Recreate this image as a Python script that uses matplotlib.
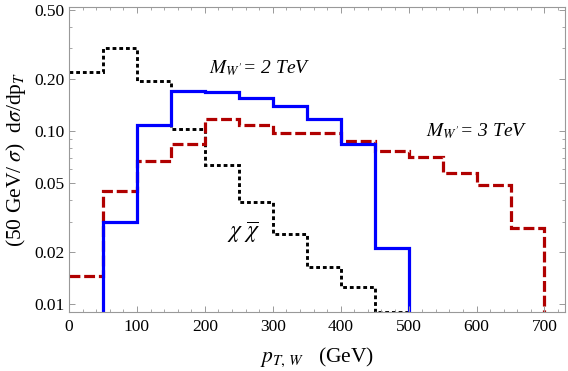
import numpy as np
import matplotlib as mpl
mpl.use("Agg")
import matplotlib.pyplot as plt
from matplotlib.ticker import FixedLocator, MultipleLocator, FixedFormatter

# bin edges (GeV) and normalised distributions
edges_chi = [0, 50, 100, 150, 200, 250, 300, 350, 400, 450, 500]
chi = [0.218, 0.300, 0.194, 0.103, 0.0635, 0.039, 0.0254, 0.0164, 0.0125, 0.0090]

edges_w2 = [50, 100, 150, 200, 250, 300, 350, 400, 450, 500]
w2 = [0.0298, 0.109, 0.170, 0.169, 0.155, 0.140, 0.118, 0.0846, 0.0211]

edges_w3 = [0, 50, 100, 150, 200, 250, 300, 350, 400, 450, 500, 550, 600, 650, 700]
w3 = [0.0146, 0.0453, 0.0673, 0.0846, 0.1166, 0.108, 0.0974, 0.0974,
      0.0876, 0.0768, 0.0709, 0.0569, 0.0488, 0.0275]

yticks = [0.01, 0.02, 0.05, 0.10, 0.20, 0.50]
ytick_labels = ["0.01", "0.02", "0.05", "0.10", "0.20", "0.50"]
yminor = [0.03, 0.04, 0.06, 0.07, 0.08, 0.09, 0.3, 0.4]

mpl.rc("font", family="Liberation Serif", size=11)
mpl.rc("mathtext", fontset="stix")

fig = plt.figure(figsize=(5.68, 3.71), dpi=100)
ax = fig.add_axes([0.1215, 0.159, 0.873, 0.822])

# empty bins far below the plot range, so the histograms only drop
# to the bottom where the reference does
floor = 1e-4

def hist(vals, edges, **kw):
    e = list(edges)
    v = list(vals)
    if e[0] > 0:
        e = [0] + e
        v = [floor] + v
    e = e + [e[-1] + 50]
    v = v + [floor]
    ax.stairs(v, e, baseline=None, **kw)

hist(chi, edges_chi, color="black", lw=2.1, ls=(0, (1.3, 1.0)))
hist(w3, edges_w3, color="#B00000", lw=2.3, ls=(0, (3.4, 1.2)))
hist(w2, edges_w2, color="#0000FF", lw=2.3)

ax.text(281, 0.232, r"$M_{W'}$= 2 TeV", style="italic", fontsize=14,
        ha="center", va="center")
ax.text(600, 0.100, r"$M_{W'}$= 3 TeV", style="italic", fontsize=14,
        ha="center", va="center")
ax.text(256, 0.0262, r"$\chi\ \overline{\chi}$", fontsize=17,
        ha="center", va="center")

ax.set_xlim(0, 730)
ax.set_yscale("log")
ax.set_ylim(0.009, 0.52)
ax.xaxis.set_major_locator(MultipleLocator(100))
ax.xaxis.set_minor_locator(MultipleLocator(20))
ax.yaxis.set_major_locator(FixedLocator(yticks))
ax.yaxis.set_major_formatter(FixedFormatter(ytick_labels))
ax.yaxis.set_minor_locator(FixedLocator(yminor))
ax.yaxis.set_minor_formatter(mpl.ticker.NullFormatter())

ax.tick_params(which="both", direction="in", top=True, right=True,
               color="#999999", labelsize=12.5)
ax.tick_params(which="major", length=4.5, width=0.7)
ax.tick_params(which="minor", length=2.5, width=0.6)
ax.tick_params(axis="x", pad=5)
for sp in ax.spines.values():
    sp.set_color("#999999")
    sp.set_linewidth(0.8)

ax.set_xlabel(r"$p_{T,\,W}$   (GeV)", fontsize=15.5, labelpad=8)
ax.set_ylabel(r"(50 GeV/ $\sigma$)  d$\sigma$/dp$_T$", fontsize=15.5, labelpad=4)

fig.savefig("out.png", dpi=100)
